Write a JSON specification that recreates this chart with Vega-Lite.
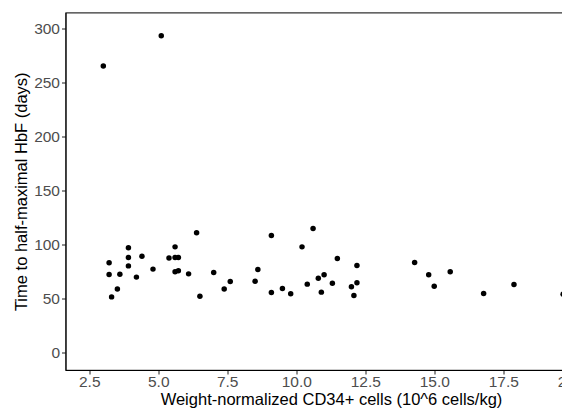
{
  "$schema": "https://vega.github.io/schema/vega-lite/v6.json",
  "width": 531,
  "height": 357.5,
  "autosize": {"type": "none"},
  "padding": {"left": 65.5, "top": 12.5, "right": -34.5, "bottom": 44},
  "background": "white",
  "config": {
    "font": "Liberation Sans",
    "view": {"stroke": "#333333", "strokeWidth": 1.1},
    "axis": {
      "grid": false,
      "domainColor": "#000000",
      "domainWidth": 1.1,
      "tickColor": "#333333",
      "tickWidth": 1.1,
      "tickSize": 4,
      "labelColor": "#4d4d4d",
      "labelFontSize": 15.5,
      "titleColor": "#000000",
      "titleFontSize": 16.5,
      "titleFontWeight": "normal"
    }
  },
  "data": {
    "values": [
      {"x": 3.22, "y": 83.2}, {"x": 3.22, "y": 72.5}, {"x": 3.31, "y": 51.7}, {"x": 3.52, "y": 59.1},
      {"x": 3.61, "y": 72.7}, {"x": 3.92, "y": 97.1}, {"x": 3.92, "y": 88.2}, {"x": 3.92, "y": 80.4},
      {"x": 4.21, "y": 70.0}, {"x": 4.41, "y": 89.4}, {"x": 4.81, "y": 77.4}, {"x": 5.39, "y": 87.6},
      {"x": 5.61, "y": 98.0}, {"x": 5.61, "y": 88.2}, {"x": 5.73, "y": 88.2}, {"x": 5.61, "y": 74.9},
      {"x": 5.73, "y": 75.8}, {"x": 6.10, "y": 73.0}, {"x": 6.39, "y": 111.0}, {"x": 6.51, "y": 52.3},
      {"x": 7.01, "y": 74.3}, {"x": 7.39, "y": 59.1}, {"x": 7.61, "y": 66.0}, {"x": 8.51, "y": 66.2},
      {"x": 8.61, "y": 77.1}, {"x": 9.10, "y": 108.6}, {"x": 9.10, "y": 55.8}, {"x": 9.50, "y": 59.5},
      {"x": 9.80, "y": 54.5}, {"x": 10.21, "y": 98.0}, {"x": 10.40, "y": 63.5}, {"x": 10.61, "y": 115.1},
      {"x": 10.80, "y": 69.0}, {"x": 11.01, "y": 72.1}, {"x": 10.91, "y": 56.1}, {"x": 11.31, "y": 64.4},
      {"x": 11.49, "y": 87.3}, {"x": 12.00, "y": 61.0}, {"x": 12.20, "y": 80.8}, {"x": 12.20, "y": 64.7},
      {"x": 12.09, "y": 53.0}, {"x": 14.29, "y": 83.6}, {"x": 14.80, "y": 72.1}, {"x": 15.00, "y": 61.6},
      {"x": 15.58, "y": 74.9}, {"x": 16.79, "y": 54.9}, {"x": 17.89, "y": 63.2}, {"x": 19.67, "y": 54.2},
      {"x": 3.01, "y": 265.5}, {"x": 5.11, "y": 293.5}
    ]
  },
  "mark": {"type": "point", "filled": true, "shape": "circle", "size": 30, "color": "#000000", "opacity": 1},
  "encoding": {
    "x": {
      "field": "x", "type": "quantitative",
      "scale": {"domain": [1.64, 20.88], "nice": false, "zero": false},
      "axis": {"values": [2.5, 5, 7.5, 10, 12.5, 15, 17.5, 20], "format": ".1f", "title": "Weight-normalized CD34+ cells (10^6 cells/kg)", "labelPadding": 0, "titlePadding": 2}
    },
    "y": {
      "field": "y", "type": "quantitative",
      "scale": {"domain": [-16, 315], "nice": false, "zero": false},
      "axis": {"values": [0, 50, 100, 150, 200, 250, 300], "title": "Time to half-maximal HbF (days)", "labelPadding": 2, "titlePadding": 4}
    }
  }
}
